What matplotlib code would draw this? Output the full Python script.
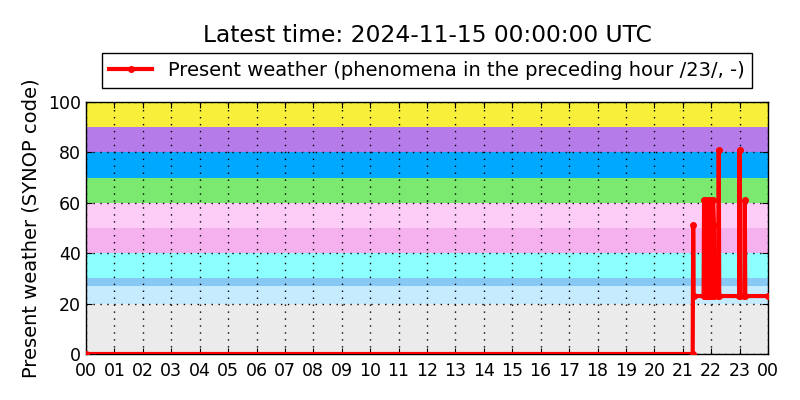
import matplotlib
matplotlib.use("Agg")
import matplotlib.pyplot as plt
import numpy as np

# SYNOP present weather (ww) readings, time of day and code
obs_times = ["00:00", "21:21", "21:22", "21:23", "21:44", "21:45", "21:46",
             "21:51", "21:52", "21:53", "21:56", "21:57", "21:58", "22:03",
             "22:04", "22:06", "22:07", "22:15", "22:16", "22:17", "22:59",
             "23:00", "23:01", "23:10", "23:11", "23:12", "24:00"]
obs_codes = [0, 0, 51, 23, 23, 61, 23,
             23, 61, 23, 23, 61, 23, 23,
             61, 51, 23, 23, 81, 23, 23,
             81, 23, 23, 61, 23, 23]

# background bands for code groups
band_edges = [0, 20, 27, 30, 40, 50, 60, 70, 80, 90, 100]
band_colors = ["#ebebeb", "#c6ebff", "#87c8f5", "#8cffff", "#f5b0ee",
               "#fdcdf7", "#7be86f", "#00a8ff", "#b57ce9", "#f7ef3a"]

hour_ticks = list(range(25))
hour_labels = ["%02d" % (h % 24) for h in hour_ticks]


def to_hours(s):
    h, m = s.split(":")
    return int(h) + int(m) / 60.0


def main() -> None:
    x = np.array([to_hours(t) for t in obs_times])
    y = np.array(obs_codes)

    fig = plt.figure(figsize=(8, 4), dpi=100)
    ax = fig.add_axes([0.1075, 0.115, 0.8525, 0.63])

    for lo, hi, c in zip(band_edges[:-1], band_edges[1:], band_colors):
        ax.axhspan(lo, hi, color=c, lw=0, zorder=0)

    ax.plot(x, y, color="red", lw=3, marker=".", ms=8, zorder=3,
            label="Present weather (phenomena in the preceding hour /23/, -)")

    ax.set_xlim(0, 24)
    ax.set_ylim(0, 100)
    ax.set_xticks(hour_ticks)
    ax.set_xticklabels(hour_labels)
    ax.set_yticks(range(0, 101, 20))
    ax.tick_params(direction="in", top=True, right=True, labelsize=12.5, length=4)
    ax.tick_params(axis="x", pad=6)
    ax.grid(True, color="black", linestyle=(0, (1, 4)), lw=1.0, zorder=1)
    ax.set_axisbelow(False)
    for sp in ax.spines.values():
        sp.set_linewidth(1.0)
    ax.set_ylabel("Present weather (SYNOP code)", fontsize=14)
    ax.yaxis.set_label_coords(-0.066, 0.5)

    leg = ax.legend(loc="lower center", bbox_to_anchor=(0.5, 1.017), fontsize=14,
                    fancybox=False, framealpha=1, edgecolor="black",
                    handlelength=2.2, borderpad=0.4)
    leg.get_frame().set_linewidth(1.0)

    fig.text(0.534, 0.912, "Latest time: 2024-11-15 00:00:00 UTC",
             ha="center", va="center", fontsize=16.8)

    fig.savefig("out.png", dpi=100)
    plt.close(fig)


if __name__ == "__main__":
    main()
